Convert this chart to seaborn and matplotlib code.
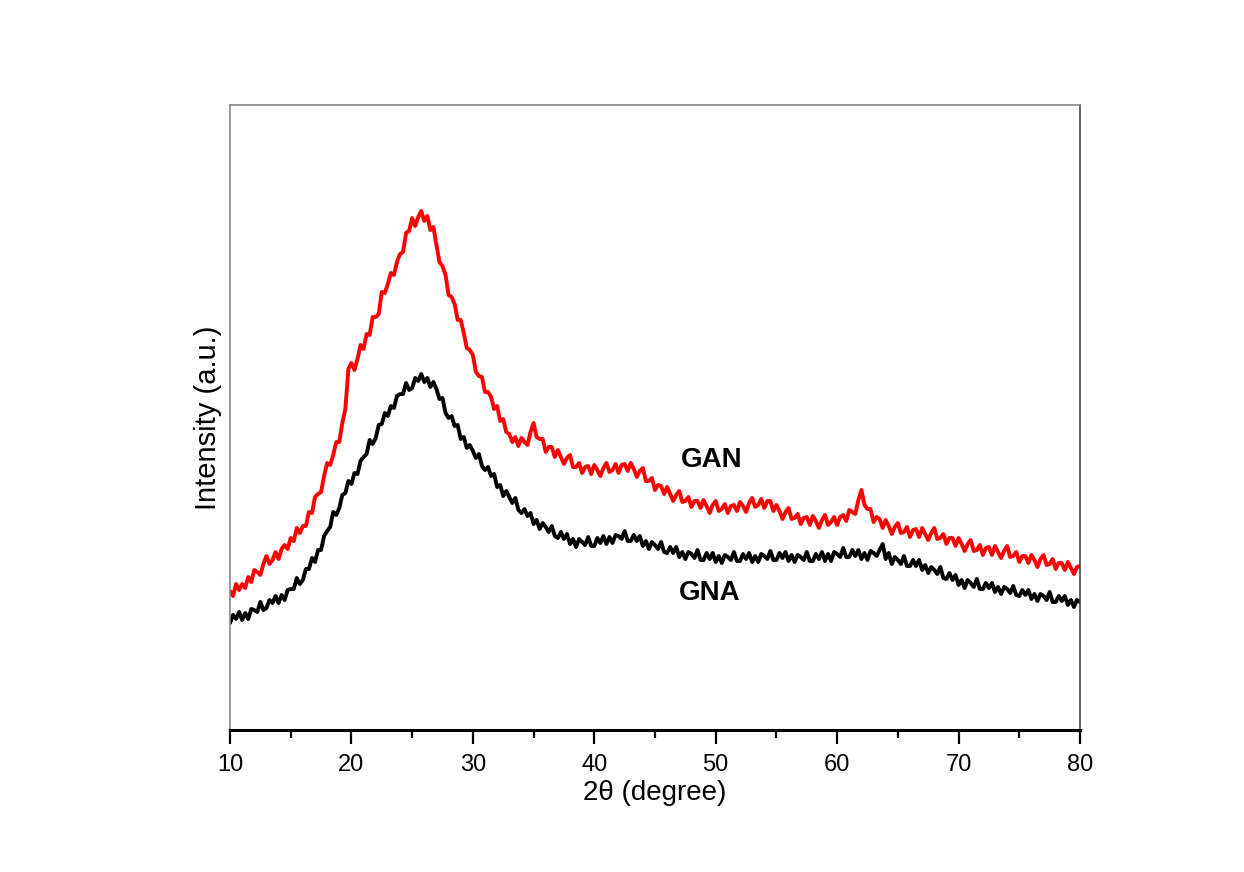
import numpy as np
import pandas as pd
import matplotlib
matplotlib.use("Agg")
import matplotlib.pyplot as plt
import seaborn as sns
from matplotlib.ticker import MultipleLocator

# ---- data (intensity in arbitrary units) ----
two_theta = np.linspace(10, 80, 281)  # 0.25 degree steps

gan = [
    139, 134, 146, 140,   # 10
    146, 142, 153, 148,   # 11
    160, 158, 155, 166,   # 12
    174, 166, 170, 178,   # 13
    171, 181, 185, 181,   # 14
    192, 189, 202, 197,   # 15
    204, 204, 218, 217,   # 16
    233, 236, 238, 254,   # 17
    267, 265, 275, 288,   # 18
    288, 307, 321, 361,   # 19
    367, 360, 371, 385,   # 20
    381, 396, 395, 413,   # 21
    413, 416, 438, 437,   # 22
    446, 457, 455, 468,   # 23
    476, 478, 497, 499,   # 24
    512, 504, 513, 519,   # 25
    509, 514, 500, 503,   # 26
    485, 468, 464, 455,   # 27
    435, 433, 426, 410,   # 28
    410, 397, 382, 380,   # 29
    375, 358, 354, 353,   # 30
    338, 338, 333, 321,   # 31
    324, 309, 311, 298,   # 32
    296, 288, 293, 284,   # 33
    292, 288, 285, 298,   # 34
    307, 293, 291, 291,   # 35
    278, 283, 283, 273,   # 36
    280, 273, 266, 272,   # 37
    275, 263, 263, 267,   # 38
    257, 263, 264, 256,   # 39
    265, 260, 254, 262,   # 40
    267, 258, 260, 266,   # 41
    257, 265, 266, 259,   # 42
    267, 261, 253, 259,   # 43
    262, 249, 249, 252,   # 44
    240, 245, 244, 236,   # 45
    243, 236, 229, 235,   # 46
    239, 228, 229, 233,   # 47
    223, 229, 229, 222,   # 48
    230, 224, 217, 225,   # 49
    229, 219, 221, 226,   # 50
    217, 224, 225, 219,   # 51
    228, 224, 218, 227,   # 52
    232, 223, 225, 231,   # 53
    222, 229, 229, 219,   # 54
    225, 219, 211, 218,   # 55
    222, 211, 212, 216,   # 56
    206, 212, 213, 205,   # 57
    214, 209, 202, 210,   # 58
    215, 205, 208, 213,   # 59
    205, 213, 215, 209,   # 60
    220, 218, 216, 230,   # 61
    240, 225, 221, 221,   # 62
    208, 213, 211, 202,   # 63
    210, 204, 196, 203,   # 64
    207, 197, 198, 203,   # 65
    193, 200, 201, 193,   # 66
    202, 196, 190, 197,   # 67
    202, 191, 192, 196,   # 68
    186, 192, 192, 184,   # 69
    192, 186, 179, 186,   # 70
    190, 179, 180, 185,   # 71
    175, 182, 183, 175,   # 72
    184, 178, 172, 179,   # 73
    184, 173, 174, 178,   # 74
    168, 174, 174, 167,   # 75
    175, 170, 163, 171,   # 76
    175, 165, 166, 171,   # 77
    161, 167, 167, 160,   # 78
    168, 162, 156, 163,   # 79
    164,                  # 80
]

gna = [
    107, 115, 111, 118,   # 10
    110, 117, 111, 121,   # 11
    120, 118, 128, 120,   # 12
    122, 130, 127, 134,   # 13
    127, 135, 130, 140,   # 14
    141, 141, 152, 146,   # 15
    150, 161, 161, 172,   # 16
    168, 180, 180, 194,   # 17
    199, 203, 218, 215,   # 18
    222, 235, 237, 249,   # 19
    246, 257, 256, 269,   # 20
    273, 276, 290, 286,   # 21
    292, 305, 306, 317,   # 22
    314, 324, 322, 334,   # 23
    336, 336, 347, 340,   # 24
    342, 352, 349, 356,   # 25
    348, 352, 343, 348,   # 26
    341, 331, 332, 317,   # 27
    312, 314, 304, 305,   # 28
    291, 293, 282, 285,   # 29
    279, 272, 276, 264,   # 30
    260, 263, 254, 256,   # 31
    243, 245, 234, 239,   # 32
    233, 227, 232, 220,   # 33
    217, 221, 214, 217,   # 34
    206, 210, 201, 207,   # 35
    203, 198, 204, 194,   # 36
    192, 198, 191, 196,   # 37
    186, 191, 183, 191,   # 38
    188, 185, 193, 184,   # 39
    184, 192, 187, 194,   # 40
    186, 193, 187, 195,   # 41
    194, 191, 199, 189,   # 42
    189, 195, 189, 194,   # 43
    184, 189, 181, 188,   # 44
    185, 181, 188, 178,   # 45
    177, 183, 177, 183,   # 46
    173, 178, 171, 178,   # 47
    176, 172, 180, 170,   # 48
    170, 177, 171, 177,   # 49
    168, 174, 167, 175,   # 50
    173, 170, 178, 169,   # 51
    169, 176, 171, 177,   # 52
    168, 174, 168, 176,   # 53
    174, 171, 179, 170,   # 54
    170, 177, 172, 178,   # 55
    169, 175, 168, 175,   # 56
    173, 170, 178, 169,   # 57
    169, 176, 171, 178,   # 58
    169, 176, 169, 178,   # 59
    176, 173, 182, 173,   # 60
    173, 180, 174, 180,   # 61
    171, 177, 170, 179,   # 62
    177, 174, 180, 186,   # 63
    171, 177, 166, 173,   # 64
    170, 166, 174, 164,   # 65
    164, 170, 164, 170,   # 66
    160, 165, 157, 163,   # 67
    160, 156, 163, 152,   # 68
    151, 157, 150, 155,   # 69
    145, 150, 142, 150,   # 70
    147, 143, 151, 141,   # 71
    141, 147, 142, 147,   # 72
    138, 143, 136, 143,   # 73
    141, 137, 144, 135,   # 74
    134, 140, 135, 140,   # 75
    131, 136, 129, 136,   # 76
    134, 130, 138, 128,   # 77
    128, 134, 129, 134,   # 78
    125, 130, 123, 130,   # 79
    128,                  # 80
]

series_names = ["GAN", "GNA"]
series_colors = ["#ff0000", "#000000"]
x_ticks = [10, 20, 30, 40, 50, 60, 70, 80]

df = pd.DataFrame({
    "two_theta": np.concatenate([two_theta, two_theta]),
    "intensity": np.concatenate([gan, gna]),
    "sample": ["GAN"] * len(gan) + ["GNA"] * len(gna),
})

# ---- style ----
sns.set_style("white")
plt.rcParams["font.family"] = ["Liberation Sans", "DejaVu Sans"]
plt.rcParams["text.color"] = "black"
plt.rcParams["axes.labelcolor"] = "black"
plt.rcParams["xtick.color"] = "black"

fig = plt.figure(figsize=(12.44, 8.72), dpi=100)
ax = fig.add_axes([230 / 1244, (872 - 730) / 872, 850 / 1244, 625 / 872])

sns.lineplot(data=df, x="two_theta", y="intensity", hue="sample",
             hue_order=series_names, palette=series_colors,
             estimator=None, linewidth=2.8, legend=False, ax=ax)

ax.set_xlim(10, 80)
ax.set_ylim(0, 625)
ax.set_xticks(x_ticks)
ax.xaxis.set_minor_locator(MultipleLocator(5))
ax.set_yticks([])
ax.tick_params(axis="x", which="major", direction="out", length=10, width=1.6,
               color="black", labelcolor="black", labelsize=17, pad=7, bottom=True)
ax.tick_params(axis="x", which="minor", direction="out", length=5.5, width=1.6,
               color="black", bottom=True)

for side in ["left", "top"]:
    ax.spines[side].set_color("#888888")
    ax.spines[side].set_linewidth(1.2)
ax.spines["right"].set_color("#444444")
ax.spines["right"].set_linewidth(1.2)
ax.spines["bottom"].set_color("black")
ax.spines["bottom"].set_linewidth(2.2)

ax.set_xlabel("2\u03b8 (degree)", fontsize=20, labelpad=3, color="black")
ax.set_ylabel("Intensity (a.u.)", fontsize=21, labelpad=6, color="black")

ax.text(49.7, 270, "GAN", fontsize=20, fontweight="bold", ha="center", va="center", color="black")
ax.text(49.5, 137, "GNA", fontsize=20, fontweight="bold", ha="center", va="center", color="black")

fig.savefig("out.png", dpi=100, facecolor="white")
